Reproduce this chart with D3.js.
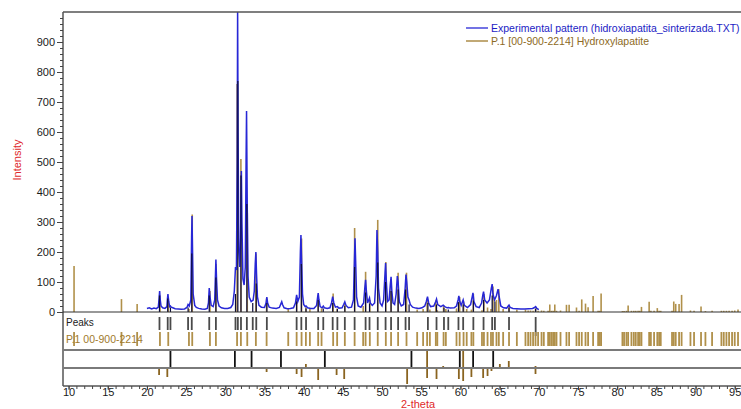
<!DOCTYPE html>
<html lang="en">
<head>
<meta charset="UTF-8">
<title>XRD pattern</title>
<script src="https://d3js.org/d3.v7.min.js"></script>
<style>
  body { margin: 0; background: #fff; }
  svg { display: block; font-family: "Liberation Sans", Arial, sans-serif; }
</style>
</head>
<body>
<svg id="chart" width="741" height="409"></svg>
<script>
// experimental pattern, [2-theta, counts]
const experimental = [
  [20.0,12],[20.3,14],[20.6,10],[20.9,13],[21.2,11],[21.45,16],[21.55,45],[21.62,70],[21.7,40],[21.8,20],
  [22.0,14],[22.3,12],[22.55,18],[22.62,45],[22.68,60],[22.78,35],[22.9,18],[23.0,20],[23.1,16],[23.3,14],
  [23.6,11],[24.0,10],[24.4,9],[24.8,10],[25.1,15],[25.25,25],[25.4,20],[25.6,40],[25.7,250],[25.75,320],
  [25.82,200],[25.9,60],[26.1,22],[26.3,15],[26.6,12],[27.0,10],[27.4,9],[27.7,12],[27.85,30],[27.95,80],
  [28.05,50],[28.2,22],[28.45,18],[28.65,40],[28.75,130],[28.8,175],[28.88,110],[29.0,40],[29.2,20],[29.5,14],
  [29.9,12],[30.3,12],[30.7,15],[30.95,25],[31.15,70],[31.3,150],[31.42,140],[31.52,500],[31.57,1010],[31.63,600],
  [31.72,200],[31.85,150],[31.95,250],[32.05,470],[32.12,300],[32.25,110],[32.4,90],[32.55,150],[32.65,500],[32.71,670],
  [32.8,350],[32.9,120],[33.05,50],[33.3,35],[33.55,40],[33.7,70],[33.82,160],[33.9,200],[33.98,130],[34.1,50],
  [34.3,22],[34.6,16],[35.0,15],[35.2,30],[35.3,50],[35.4,30],[35.6,16],[36.0,13],[36.5,12],[36.9,15],
  [37.1,28],[37.2,34],[37.3,25],[37.5,14],[37.9,11],[38.3,12],[38.7,14],[38.95,30],[39.1,57],[39.25,35],
  [39.45,50],[39.58,200],[39.65,257],[39.73,180],[39.85,60],[40.0,25],[40.2,18],[40.3,20],[40.5,14],[40.9,12],
  [41.3,12],[41.65,22],[41.78,50],[41.85,63],[41.95,40],[42.1,18],[42.35,14],[42.5,20],[42.65,14],[43.0,12],
  [43.35,14],[43.55,30],[43.7,51],[43.85,30],[44.05,16],[44.3,18],[44.5,13],[44.9,14],[45.1,25],[45.25,34],
  [45.4,22],[45.7,14],[46.1,16],[46.35,40],[46.48,180],[46.55,246],[46.63,170],[46.75,50],[46.95,20],[47.3,16],
  [47.65,30],[47.8,80],[47.9,107],[48.0,70],[48.15,30],[48.3,40],[48.4,47],[48.5,30],[48.75,22],[49.05,30],
  [49.25,120],[49.35,273],[49.45,200],[49.55,80],[49.75,30],[50.0,20],[50.2,40],[50.38,130],[50.45,163],[50.55,100],
  [50.7,35],[50.9,40],[51.05,90],[51.15,117],[51.25,70],[51.4,30],[51.6,25],[51.8,60],[51.95,120],[52.05,100],
  [52.2,35],[52.45,20],[52.75,25],[52.95,80],[53.05,125],[53.15,100],[53.3,50],[53.45,40],[53.6,25],[53.9,16],
  [54.3,13],[54.7,12],[55.1,14],[55.45,20],[55.65,35],[55.8,51],[55.95,30],[56.2,18],[56.6,20],[56.85,35],
  [56.95,43],[57.1,25],[57.5,18],[57.8,23],[58.0,18],[58.3,14],[58.5,15],[58.7,13],[59.2,14],[59.5,20],
  [59.7,40],[59.8,54],[59.92,35],[60.1,22],[60.25,33],[60.35,40],[60.5,22],[60.9,15],[61.3,25],[61.5,50],
  [61.6,64],[61.72,35],[62.0,18],[62.4,15],[62.7,30],[62.85,55],[62.95,68],[63.1,40],[63.4,30],[63.7,40],
  [63.95,80],[64.05,93],[64.15,60],[64.35,40],[64.6,55],[64.8,76],[64.95,50],[65.15,20],[65.5,14],[65.9,13],
  [66.1,20],[66.2,23],[66.35,15],[66.7,12],[67.2,11],[67.7,10],[68.2,10],[68.7,11],[69.2,12],[69.45,15],
  [69.6,18],[69.75,12],[70.0,8]
];

// peak list found in the pattern
const peakTheta = [21.6,22.65,23.0,25.25,25.72,27.95,28.8,31.3,31.6,32.0,32.75,33.5,33.95,35.3,39.1,39.7,40.3,41.85,42.5,43.7,44.3,45.25,46.5,47.9,48.4,49.45,50.45,51.15,52.05,53.0,53.45,55.85,56.95,57.9,58.45,59.75,60.35,61.65,62.95,64.05,64.4,66.2,69.6];
const peakHeight = [55,45,15,15,195,55,115,60,770,455,360,30,95,30,35,160,12,40,12,30,10,20,150,65,28,165,100,70,75,75,25,30,25,14,8,33,25,38,40,55,35,14,11];

// reference pattern P.1 [00-900-2214] Hydroxylapatite
const refTheta = [10.7,16.75,18.75,21.66,22.72,25.36,25.78,28.04,28.8,31.5,31.99,32.8,33.9,35.27,38.03,39.1,39.73,40.28,40.79,41.85,42.28,43.76,44.27,45.25,46.5,47.59,47.9,48.44,49.45,50.48,51.15,52.05,53.12,54.48,55.24,55.75,56.1,56.86,57.05,57.85,58.14,59.5,59.9,60.4,60.8,61.4,61.65,62.75,63.0,63.46,63.9,64.15,64.6,64.9,65.45,66.2,67.2,68.3,68.64,68.94,69.27,69.58,69.91,70.35,70.64,71.19,71.4,71.62,71.83,72.04,72.26,72.77,73.53,73.87,74.81,75.14,75.48,75.96,76.29,76.93,77.57,77.78,77.95,80.67,80.88,81.18,81.4,81.82,82.12,82.37,82.67,82.88,83.1,84.08,84.3,84.71,85.12,85.35,85.56,87.0,87.22,87.47,87.9,88.22,89.35,89.81,90.7,91.26,92.11,93.3,93.6,93.94,94.28,94.66,95.0,95.42];
const refHeight = [153,43,27,55,45,10,325,70,160,760,510,330,195,45,10,45,245,15,10,55,12,62,12,30,280,20,134,40,307,167,110,131,131,8,10,45,8,38,6,20,10,12,50,35,10,8,60,6,60,15,10,85,40,76,10,20,8,8,5,5,4,12,4,5,4,4,25,4,4,25,4,5,24,24,15,4,42,28,16,53,4,4,62,3,3,4,22,4,4,4,4,4,17,34,4,4,13,4,4,4,35,27,27,57,5,4,18,3,4,4,4,4,4,4,5,8];

// lines of the match panel
const matchTheta = [23.0,31.22,33.35,37.1,42.7,53.75,59.92,61.62,64.18];

// difference bars, [2-theta, low, high]
const diffTheta = [21.55,22.6,25.1,35.27,39.1,39.73,40.28,41.85,44.2,45.17,53.2,55.75,56.95,57.8,58.5,59.8,60.35,61.4,62.9,63.46,63.96,65.03,66.17,69.58];
const diffLow  = [-7,-9,0,-4,-6,-9,0,-12,-7,-11,-16,-10,-11,0,0,-11,-13,-9,-10,-8,-3,0,0,-6];
const diffHigh = [0,0,1,0,0,0,4,0,0,0,0,18,0,2,1,0,18,0,0,0,0,4,7,2];

const yTicks = [0,100,200,300,400,500,600,700,800,900];
const xTicks = [10,15,20,25,30,35,40,45,50,55,60,65,70,75,80,85,90,95];

const plotLeft = 63, plotTop = 12, plotRight = 741, zeroY = 312, plotBottom = 386;

const svg = d3.select("#chart");

const x = d3.scaleLinear().domain([9.29, 95.8]).range([plotLeft, plotRight]);
const y = d3.scaleLinear().domain([0, 1000]).range([zeroY, plotTop]);
const yd = d3.scaleLinear().domain([-20, 20]).range([388, 348]);

svg.append("clipPath").attr("id", "clip")
  .append("rect").attr("x", plotLeft).attr("y", plotTop)
  .attr("width", plotRight - plotLeft).attr("height", zeroY - plotTop);

const main = svg.append("g").attr("clip-path", "url(#clip)");

// reference sticks
main.selectAll("line.ref")
  .data(refTheta)
  .enter().append("line")
  .attr("class", "ref")
  .attr("x1", d => x(d)).attr("x2", d => x(d))
  .attr("y1", y(0)).attr("y2", (d, i) => y(refHeight[i]))
  .attr("stroke", "#b0904a").attr("stroke-width", 1.6);

// experimental line
main.append("path")
  .datum(experimental)
  .attr("fill", "none")
  .attr("stroke", "#2727d6")
  .attr("stroke-width", 1.5)
  .attr("d", d3.line().x(d => x(d[0])).y(d => y(d[1])));

// peak sticks
main.selectAll("line.pk")
  .data(peakTheta)
  .enter().append("line")
  .attr("class", "pk")
  .attr("x1", d => x(d)).attr("x2", d => x(d))
  .attr("y1", y(0)).attr("y2", (d, i) => y(peakHeight[i]))
  .attr("stroke", "#0c0c3a").attr("stroke-width", 1.2);

// peaks row marks
svg.selectAll("line.pkmark")
  .data(peakTheta)
  .enter().append("line")
  .attr("class", "pkmark")
  .attr("x1", d => x(d)).attr("x2", d => x(d))
  .attr("y1", 317).attr("y2", d => d > 69 ? 336 : 330)
  .attr("stroke", "#4a4a4a").attr("stroke-width", 1.8);

// reference row marks
svg.selectAll("line.refmark")
  .data(refTheta)
  .enter().append("line")
  .attr("class", "refmark")
  .attr("x1", d => x(d)).attr("x2", d => x(d))
  .attr("y1", 332).attr("y2", 346)
  .attr("stroke", "#b0904a").attr("stroke-width", 1.8);

// match panel lines
svg.selectAll("line.match")
  .data(matchTheta)
  .enter().append("line")
  .attr("class", "match")
  .attr("x1", d => x(d)).attr("x2", d => x(d))
  .attr("y1", 350).attr("y2", 368)
  .attr("stroke", "#111").attr("stroke-width", 1.8);

// difference bars
svg.selectAll("line.diff")
  .data(diffTheta)
  .enter().append("line")
  .attr("class", "diff")
  .attr("x1", d => x(d)).attr("x2", d => x(d))
  .attr("y1", (d, i) => yd(diffLow[i])).attr("y2", (d, i) => yd(diffHigh[i]))
  .attr("stroke", "#8a6420").attr("stroke-width", 1.8);

// frame and separators
const frame = svg.append("g");
frame.append("line").attr("x1", plotLeft).attr("x2", plotRight).attr("y1", plotTop).attr("y2", plotTop)
  .attr("stroke", "#555").attr("stroke-width", 1.5);
frame.append("line").attr("x1", plotLeft).attr("x2", plotLeft).attr("y1", plotTop).attr("y2", plotBottom)
  .attr("stroke", "#555").attr("stroke-width", 1.5);
frame.append("line").attr("x1", plotLeft).attr("x2", plotRight).attr("y1", zeroY).attr("y2", zeroY)
  .attr("stroke", "#333").attr("stroke-width", 1.2);
[350, 368].forEach(v => {
  frame.append("line").attr("x1", plotLeft).attr("x2", plotRight).attr("y1", v).attr("y2", v)
    .attr("stroke", "#7a7a7a").attr("stroke-width", 2);
});
frame.append("line").attr("x1", plotLeft).attr("x2", plotRight).attr("y1", plotBottom).attr("y2", plotBottom)
  .attr("stroke", "#555").attr("stroke-width", 1.5);

// y axis
const yMinor = svg.append("g").attr("transform", `translate(${plotLeft},0)`)
  .call(d3.axisLeft(y).tickValues(d3.range(0, 1000, 20)).tickSize(3).tickFormat(""));
yMinor.select(".domain").remove();
const yAxis = svg.append("g").attr("transform", `translate(${plotLeft},0)`)
  .call(d3.axisLeft(y).tickValues(yTicks).tickSize(6).tickPadding(2));
yAxis.select(".domain").remove();
yAxis.selectAll("text").attr("font-size", 11).attr("fill", "#1a1a1a")
  .attr("font-family", "Liberation Sans, Arial, sans-serif");

// x axis
const xMinor = svg.append("g").attr("transform", `translate(0,${plotBottom})`)
  .call(d3.axisBottom(x).tickValues(d3.range(10, 96, 1)).tickSize(3).tickFormat(""));
xMinor.select(".domain").remove();
const xAxis = svg.append("g").attr("transform", `translate(0,${plotBottom})`)
  .call(d3.axisBottom(x).tickValues(xTicks).tickSize(4).tickPadding(0));
xAxis.select(".domain").remove();
xAxis.selectAll("text").attr("y", 2).attr("font-size", 11).attr("fill", "#1a1a1a")
  .attr("font-family", "Liberation Sans, Arial, sans-serif");
svg.selectAll(".tick line").attr("stroke", "#444");

// axis titles
svg.append("text")
  .attr("transform", "translate(21,160) rotate(-90)")
  .attr("text-anchor", "middle")
  .attr("font-size", 11).attr("fill", "#e0282a")
  .text("Intensity");
svg.append("text")
  .attr("x", 418).attr("y", 408)
  .attr("text-anchor", "middle")
  .attr("font-size", 11).attr("fill", "#e0282a")
  .text("2-theta");

// panel labels
svg.append("text").attr("x", 66).attr("y", 326)
  .attr("font-size", 10).attr("fill", "#222").text("Peaks");
svg.append("text").attr("x", 66).attr("y", 343)
  .attr("font-size", 10.5).attr("fill", "#a07a2c").text("P.1 00-900-2214");

// legend
const legend = [
  { label: "Experimental pattern (hidroxiapatita_sinterizada.TXT)", color: "#2727d6", text: "#1c1cc4" },
  { label: "P.1 [00-900-2214] Hydroxylapatite", color: "#a07a2c", text: "#8d6a24" }
];
const lg = svg.append("g");
legend.forEach((d, i) => {
  const ly = 31 + i * 13;
  lg.append("line").attr("x1", 466).attr("x2", 488).attr("y1", ly - 3).attr("y2", ly - 3)
    .attr("stroke", d.color).attr("stroke-width", 1.3);
  lg.append("text").attr("x", 491).attr("y", ly + 1)
    .attr("font-size", 10.5).attr("fill", d.text).text(d.label);
});
</script>
</body>
</html>
